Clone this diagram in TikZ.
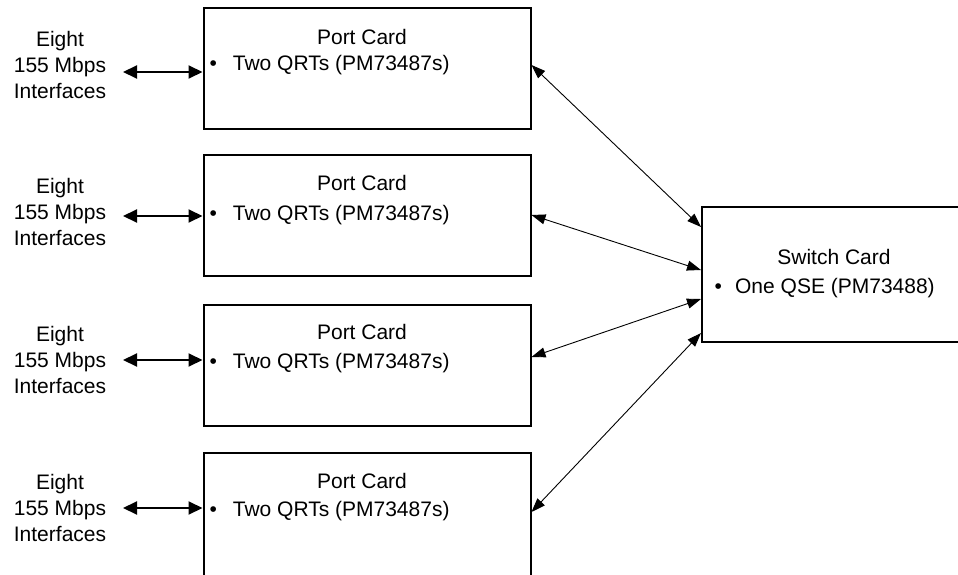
\documentclass[tikz,border=0pt]{standalone}
\usepackage{fontspec}
\setmainfont{Liberation Sans}
\usetikzlibrary{arrows.meta,calc}
\begin{document}
\begin{tikzpicture}[x=1pt,y=-1pt,
  card/.style={draw,line width=2pt,rectangle,inner sep=0pt,minimum width=327pt},
  txt/.style={inner sep=0pt,font=\fontsize{21}{26}\selectfont},
  lbl/.style={txt,align=center},
  thinarrow/.style={line width=0.9pt,{Triangle[length=14pt,width=10pt]}-{Triangle[length=14pt,width=10pt]}},
  thickarrow/.style={line width=2pt,{Triangle[length=14pt,width=13pt]}-{Triangle[length=14pt,width=13pt]}}
]
\useasboundingbox (0,0) rectangle (958,575);
\clip (0,0) rectangle (958,575);
\fill[white] (0,0) rectangle (958,575);

% port cards
\node[card,minimum height=121pt] (p1) at (367,69) {};
\node[card,minimum height=121pt] (p2) at (367,215) {};
\node[card,minimum height=121pt] (p3) at (367,365) {};
\node[card,minimum height=132pt] (p4) at (367,519) {};
% switch card
\node[card,minimum width=268pt,minimum height=135pt] (sw) at (836,274) {};

% card texts
\foreach \i/\t/\b in {1/44.5/70.5, 2/190.5/220.5, 3/339.5/368.5, 4/488.5/516.5}{
  \node[txt,anchor=base] (t\i) at (362,\t) {Port Card};
  \node[txt,anchor=base west] (b\i) at (209.3,\b) {\textbullet\hspace{16pt}Two QRTs (PM73487s)};
}
\node[txt,anchor=base] (swt) at (834,264.5) {Switch Card};
\node[txt,anchor=base west] (swb) at (714.3,293.5) {\textbullet\hspace{13.3pt}One QSE (PM73488)};

% interface labels
\node[lbl] (l1) at (60,65) {Eight\\155 Mbps\\Interfaces};
\node[lbl] (l2) at (60,212.4) {Eight\\155 Mbps\\Interfaces};
\node[lbl] (l3) at (60,360.3) {Eight\\155 Mbps\\Interfaces};
\node[lbl] (l4) at (60,508.4) {Eight\\155 Mbps\\Interfaces};

% interface arrows
\foreach \i/\y in {1/72, 2/216, 3/360, 4/508}{
  \coordinate (ia\i) at (123,\y);
  \draw[thickarrow] (ia\i) -- (p\i.west |- ia\i);
}

% card to switch arrows
\draw[thinarrow] ($(p1.east)+(0,-4)$) -- ($(sw.west)+(0,-47)$);
\draw[thinarrow] ($(p2.east)+(0,0)$) -- ($(sw.west)+(0,-4)$);
\draw[thinarrow] ($(p3.east)+(0,-8)$) -- ($(sw.west)+(0,25)$);
\draw[thinarrow] ($(p4.east)+(0,-7)$) -- ($(sw.west)+(0,59)$);
\end{tikzpicture}
\end{document}
